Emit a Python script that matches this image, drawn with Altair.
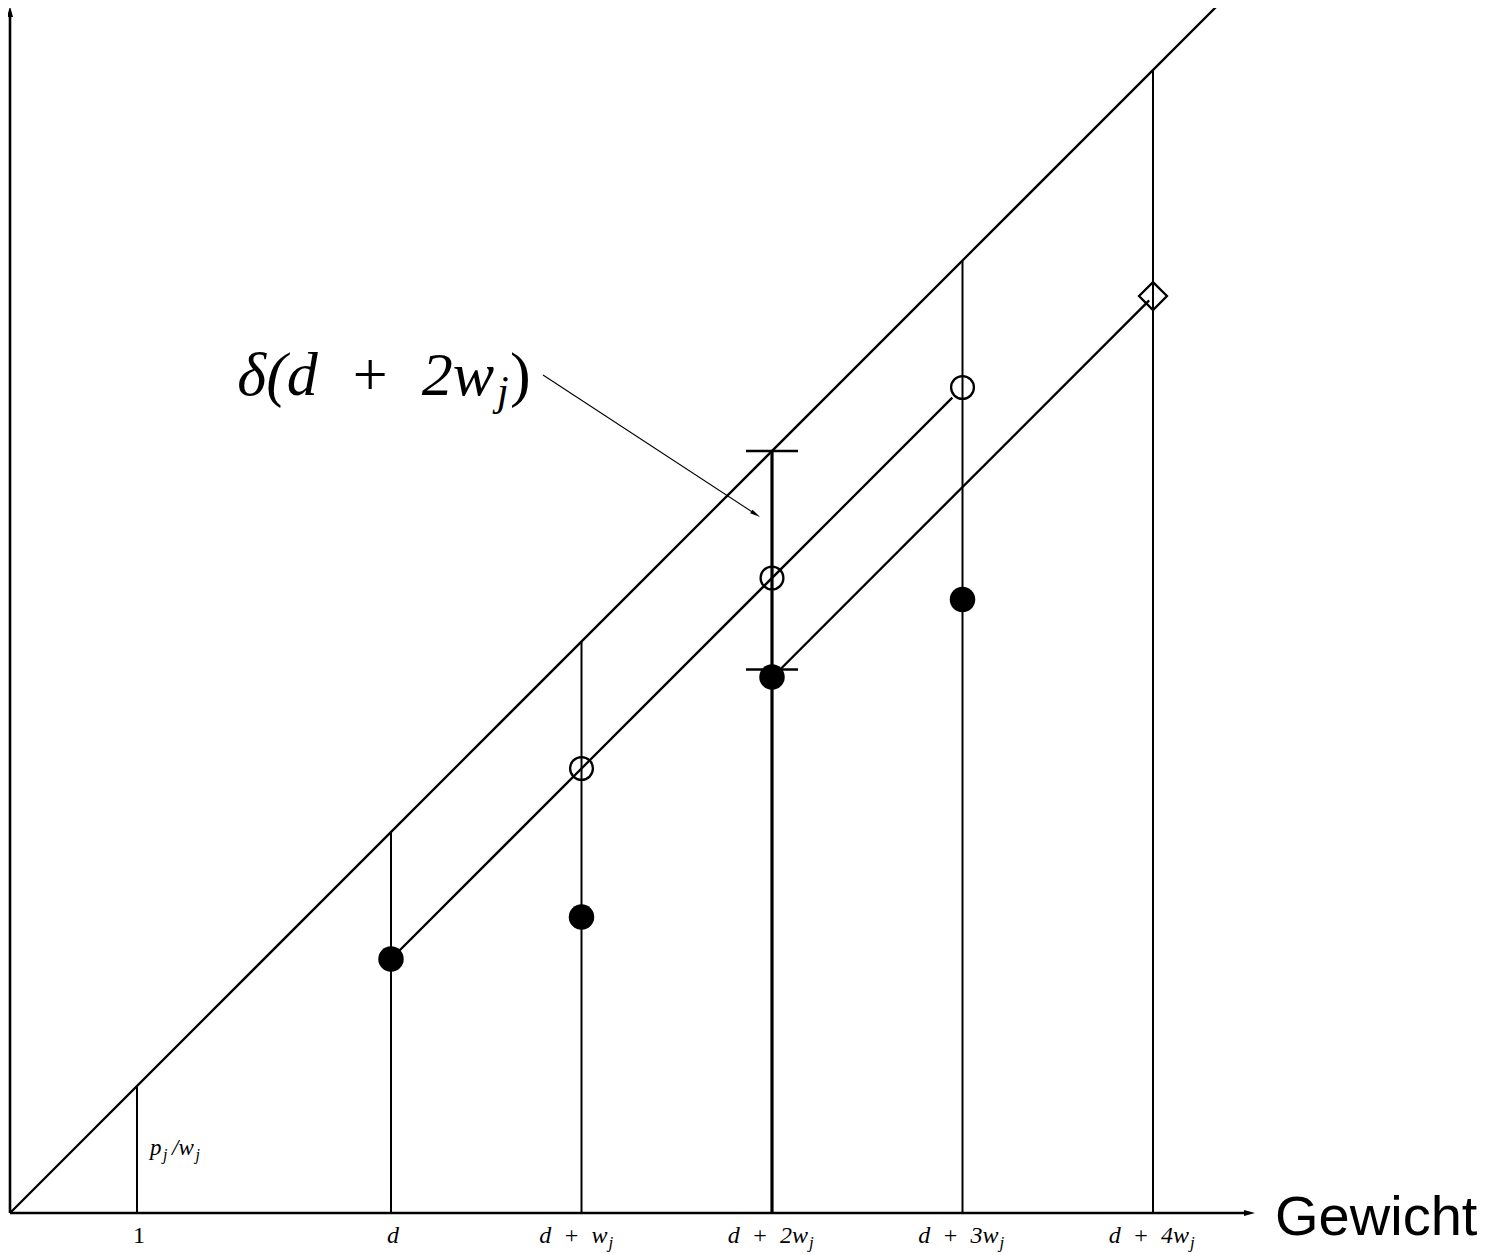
import altair as alt
import pandas as pd

# ---- data (units: the "1" tick = 1) ----
tick_x = [1, 3, 4.5, 6, 7.5, 9]
tick_main = ["1", "d", "d\u2002+\u2002w", "d\u2002+\u20022w", "d\u2002+\u20023w", "d\u2002+\u20024w"]
tick_sub = ["", "", "j", "j", "j", "j"]
vert_top = [1, 3, 4.5, 6, 7.5, 9]          # verticals reach the diagonal

filled_x = [3, 4.5, 6, 7.5]
filled_y = [2.0, 2.33, 4.22, 4.83]
open_x = [4.5, 6, 7.5]
open_y = [3.5, 5.0, 6.5]
diamond_x = [9]
diamond_y = [7.22]

# parallel segments (start x, start y, end x, end y)
seg_x = [3.0, 6.06]
seg_y = [2.0, 4.276]
seg_x2 = [7.42, 8.97]
seg_y2 = [6.42, 7.186]

# error bar at d+2w
bar_x = 6
bar_lo = 4.28
bar_hi = 6.0

diag_end = 9.53

# ---- scales: 127 px per unit ----
U = 127.0
W, H = 1470, 1247
x0 = -2 / U
y1 = 1205 / U
xs = alt.Scale(domain=[x0, x0 + W / U], nice=False, zero=False)
ys = alt.Scale(domain=[y1 - H / U, y1], nice=False, zero=False)


def X(f="x"):
    return alt.X(f"{f}:Q", scale=xs, axis=None)


def Y(f="y"):
    return alt.Y(f"{f}:Q", scale=ys, axis=None)


layers = []

# axes
axes_df = pd.DataFrame({"x": [0, 0], "y": [0, 0], "x2": [9.72, 0], "y2": [0, 9.42]})
layers.append(alt.Chart(axes_df).mark_rule(color="black", strokeWidth=2.6).encode(
    x=X(), y=Y(), x2="x2:Q", y2="y2:Q"))
arrow_df = pd.DataFrame({"x": [9.76, 0], "y": [0, 9.46], "shape": ["r", "u"]})
layers.append(alt.Chart(arrow_df[arrow_df["shape"] == "r"]).mark_point(
    shape="M1,0L-1,-0.55L-1,0.55Z", filled=True, color="black", opacity=1, size=121, strokeWidth=0
).encode(x=X(), y=Y()))
layers.append(alt.Chart(arrow_df[arrow_df["shape"] == "u"]).mark_point(
    shape="M0,-1L-0.55,1L0.55,1Z", filled=True, color="black", opacity=1, size=121, strokeWidth=0
).encode(x=X(), y=Y()))

# diagonal
diag_df = pd.DataFrame({"x": [0], "y": [0], "x2": [diag_end], "y2": [diag_end]})
layers.append(alt.Chart(diag_df).mark_rule(color="black", strokeWidth=2.3).encode(
    x=X(), y=Y(), x2="x2:Q", y2="y2:Q"))

# verticals
vdf = pd.DataFrame({"x": tick_x, "y": [0] * len(tick_x), "y2": vert_top})
layers.append(alt.Chart(vdf[vdf["x"] != bar_x]).mark_rule(color="black", strokeWidth=2).encode(
    x=X(), y=Y(), y2="y2:Q"))
layers.append(alt.Chart(pd.DataFrame({"x": [bar_x], "y": [0], "y2": [bar_hi]})).mark_rule(
    color="black", strokeWidth=3.2).encode(x=X(), y=Y(), y2="y2:Q"))

# caps
cap_half = 26 / U
cdf = pd.DataFrame({"x": [bar_x - cap_half] * 2, "x2": [bar_x + cap_half] * 2, "y": [bar_lo, bar_hi]})
layers.append(alt.Chart(cdf).mark_rule(color="black", strokeWidth=2.6).encode(
    x=X(), x2="x2:Q", y=Y()))

# parallel segments
sdf = pd.DataFrame({"x": seg_x, "y": seg_y, "x2": seg_x2, "y2": seg_y2})
layers.append(alt.Chart(sdf).mark_rule(color="black", strokeWidth=2.3).encode(
    x=X(), y=Y(), x2="x2:Q", y2="y2:Q"))

# points
layers.append(alt.Chart(pd.DataFrame({"x": filled_x, "y": filled_y})).mark_point(
    shape="circle", filled=True, color="black", opacity=1, size=650, strokeWidth=0).encode(x=X(), y=Y()))
layers.append(alt.Chart(pd.DataFrame({"x": open_x, "y": open_y})).mark_point(
    shape="circle", filled=False, color="black", opacity=1, size=520, strokeWidth=2.3).encode(x=X(), y=Y()))
layers.append(alt.Chart(pd.DataFrame({"x": diamond_x, "y": diamond_y})).mark_point(
    shape="diamond", filled=False, color="black", opacity=1, size=780, strokeWidth=2.3).encode(x=X(), y=Y()))

# annotation arrow
ann_df = pd.DataFrame({"x": [533 / U], "y": [838 / U], "x2": [5.872], "y2": [5.502]})
layers.append(alt.Chart(ann_df).mark_rule(color="black", strokeWidth=1.1).encode(
    x=X(), y=Y(), x2="x2:Q", y2="y2:Q"))
layers.append(alt.Chart(pd.DataFrame({"x": [5.872], "y": [5.502]})).mark_point(
    shape="M1,0L-1,-0.4L-1,0.4Z", filled=True, color="black", opacity=1, size=110, strokeWidth=0,
    angle=33).encode(x=X(), y=Y()))

# ---- text ----
SERIF = "Liberation Serif"
rows = []
lab_y = -30 / U
sub_dy = -5 / U
for tx, m, s in zip(tick_x, tick_main, tick_sub):
    if s == "":
        rows.append(dict(x=tx + 2 / U, y=lab_y, t=m, fs=24, al="center", st="normal" if m == "1" else "italic", f=SERIF))
    else:
        off = (26 if tx == 4.5 else 36) / U
        rows.append(dict(x=tx + off, y=lab_y, t=m, fs=24, al="right", st="italic", f=SERIF))
        rows.append(dict(x=tx + off + 1 / U, y=lab_y + sub_dy, t=s, fs=17, al="left", st="italic", f=SERIF))

# p_j / w_j
rows += [
    dict(x=1.102, y=0.457, t="p", fs=23, al="left", st="italic", f=SERIF),
    dict(x=1.205, y=0.417, t="j", fs=16, al="left", st="italic", f=SERIF),
    dict(x=1.276, y=0.457, t="/w", fs=23, al="left", st="italic", f=SERIF),
    dict(x=1.460, y=0.417, t="j", fs=16, al="left", st="italic", f=SERIF),
]
# big label
rows += [
    dict(x=3.811, y=6.441, t="\u03b4(d\u2002+\u20022w", fs=62, al="right", st="italic", f=SERIF),
    dict(x=3.835, y=6.362, t="j", fs=42, al="left", st="italic", f=SERIF),
    dict(x=3.937, y=6.441, t=")", fs=62, al="left", st="normal", f=SERIF),
]
# axis title
rows.append(dict(x=9.961, y=-0.173, t="Gewicht", fs=56, al="left", st="normal", f="Liberation Sans"))

tdf = pd.DataFrame(rows)
for (al, st, f), g in tdf.groupby(["al", "st", "f"]):
    layers.append(alt.Chart(g.reset_index(drop=True)).mark_text(
        align=al, baseline="alphabetic", font=f, fontStyle=st, color="black"
    ).encode(x=X(), y=Y(), text="t:N", size=alt.Size("fs:Q", scale=None, legend=None)))

chart = alt.layer(*layers).properties(
    width=W, height=H, padding=0, autosize=alt.AutoSizeParams(type="none")
).configure_view(stroke=None)

chart.save("out.html", embed_options={"renderer": "svg", "actions": False})
